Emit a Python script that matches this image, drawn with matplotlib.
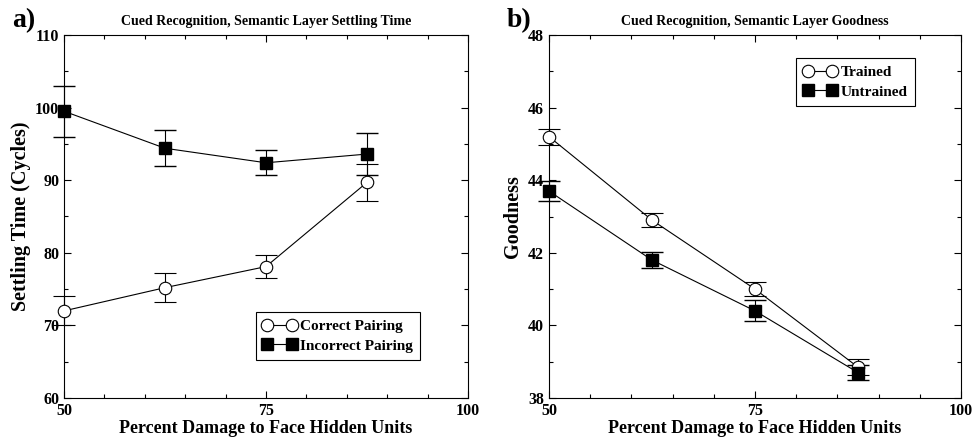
import numpy as np
import matplotlib.pyplot as plt
from matplotlib.ticker import MultipleLocator
from matplotlib.lines import Line2D

plt.rcParams['font.family'] = ['Liberation Serif', 'DejaVu Serif']
plt.rcParams['font.weight'] = 'bold'

damage = [50, 62.5, 75, 87.5]

# panel a: settling time
correct_time = [72.0, 75.2, 78.1, 89.7]
correct_time_err = [2.0, 2.0, 1.6, 2.6]
incorrect_time = [99.5, 94.4, 92.4, 93.6]
incorrect_time_err = [3.5, 2.5, 1.75, 2.9]

# panel b: goodness
trained_good = [45.2, 42.9, 41.0, 38.85]
trained_good_err = [0.22, 0.2, 0.2, 0.22]
untrained_good = [43.7, 41.8, 40.4, 38.7]
untrained_good_err = [0.28, 0.23, 0.29, 0.2]

fig = plt.figure(figsize=(9.72, 4.47), dpi=100)
ax1 = fig.add_axes([64/972, 1-398/447, 404/972, 363/447])
ax2 = fig.add_axes([549/972, 1-398/447, 412/972, 363/447])


def style(ax, ylo, yhi, ymaj, ymin):
    ax.set_xlim(50, 100)
    ax.set_ylim(ylo, yhi)
    ax.xaxis.set_major_locator(MultipleLocator(25))
    ax.xaxis.set_minor_locator(MultipleLocator(5))
    ax.yaxis.set_major_locator(MultipleLocator(ymaj))
    ax.yaxis.set_minor_locator(MultipleLocator(ymin))
    ax.tick_params(which='both', direction='in', top=True, right=True, labelsize=11.5, width=0.8)
    ax.tick_params(which='major', length=5)
    ax.tick_params(which='minor', length=3)
    for s in ax.spines.values():
        s.set_linewidth(0.8)
    for lab in ax.get_xticklabels() + ax.get_yticklabels():
        lab.set_fontweight('bold')
    ax.set_xlabel('Percent Damage to Face Hidden Units', fontsize=13, fontweight='bold', labelpad=1)


def plot_pair(ax, y1, e1, y2, e2):
    ax.errorbar(damage, y1, yerr=e1, color='black', lw=0.8, elinewidth=0.8, capsize=8,
                marker='o', ms=9, mfc='white', mec='black', mew=0.8, clip_on=False, zorder=3)
    ax.errorbar(damage, y2, yerr=e2, color='black', lw=0.8, elinewidth=0.8, capsize=8,
                marker='s', ms=8, mfc='black', mec='black', clip_on=False, zorder=3)


def add_legend(ax, lab1, lab2, box):
    h1 = Line2D([], [], color='black', lw=0.8, marker='o', ms=9, mfc='white', mec='black', mew=0.8)
    h2 = Line2D([], [], color='black', lw=0.8, marker='s', ms=8, mfc='black', mec='black')
    leg = ax.legend([h1, h2], [lab1, lab2], loc='center', bbox_to_anchor=box,
                    bbox_transform=fig.transFigure, fancybox=False, edgecolor='black',
                    framealpha=1, prop={'size': 11, 'weight': 'bold'}, numpoints=2,
                    handlelength=2.2, handletextpad=0.25, borderaxespad=0, borderpad=0.45,
                    labelspacing=0.4)
    leg.get_frame().set_linewidth(0.8)


plot_pair(ax1, correct_time, correct_time_err, incorrect_time, incorrect_time_err)
style(ax1, 60, 110, 10, 5)
ax1.set_ylabel('Settling Time (Cycles)', fontsize=14.5, fontweight='bold', labelpad=3)
ax1.set_title('Cued Recognition, Semantic Layer Settling Time', fontsize=10, fontweight='bold', pad=7)
add_legend(ax1, 'Correct Pairing', 'Incorrect Pairing', (260/972, 1-361/447, 156/972, 50/447))

plot_pair(ax2, trained_good, trained_good_err, untrained_good, untrained_good_err)
style(ax2, 38, 48, 2, 1)
ax2.set_ylabel('Goodness', fontsize=14.5, fontweight='bold', labelpad=4)
ax2.set_title('Cued Recognition, Semantic Layer Goodness', fontsize=10, fontweight='bold', pad=7)
add_legend(ax2, 'Trained', 'Untrained', (798/972, 1-107/447, 115/972, 50/447))

fig.text(12/972, 1-27/447, 'a)', fontsize=20, fontweight='bold')
fig.text(507/972, 1-27/447, 'b)', fontsize=20, fontweight='bold')

fig.savefig('out.png', dpi=100)
